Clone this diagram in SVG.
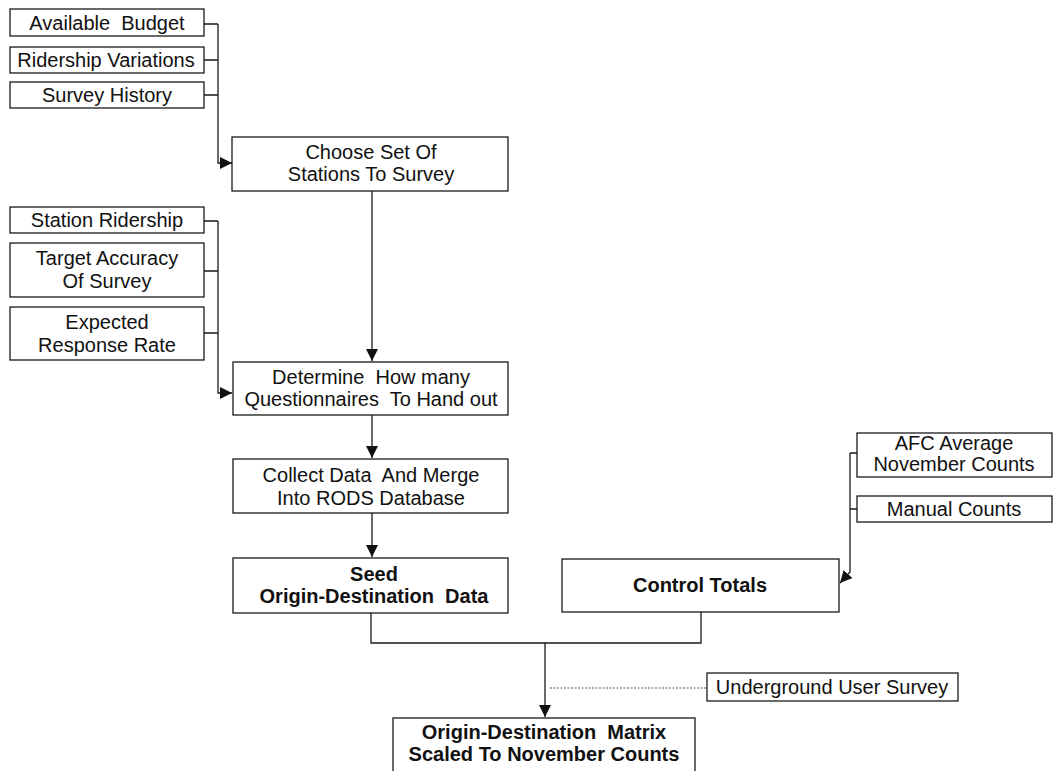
<svg xmlns="http://www.w3.org/2000/svg" width="1054" height="771" viewBox="0 0 1054 771">
  <style>
    .box { fill: #fff; stroke: #1a1a1a; stroke-width: 1.3; }
    .t { font-family: "Liberation Sans", Arial, sans-serif; font-size: 20px; fill: #111; text-anchor: middle; white-space: pre; }
    .b { font-weight: bold; }
    .ln { fill: none; stroke: #1a1a1a; stroke-width: 1.3; }
    .dot { fill: none; stroke: #555; stroke-width: 1; stroke-dasharray: 2 1.5; }
  </style>
  <defs>
    <marker id="arr" viewBox="0 0 10 10" refX="10" refY="5" markerWidth="12" markerHeight="12" markerUnits="userSpaceOnUse" orient="auto">
      <path d="M0,0 L10,5 L0,10 Z" fill="#111"/>
    </marker>
  </defs>
  <rect width="1054" height="771" fill="#fff"/>

  <!-- connectors -->
  <g id="connectors">
    <!-- inputs to station selection -->
    <path class="ln" d="M204,24 H218 M204,60 H218 M204,95 H218"/>
    <path class="ln" d="M218,24 V163 H232" marker-end="url(#arr)"/>
    <!-- station selection to sample size -->
    <path class="ln" d="M372,191 V361" marker-end="url(#arr)"/>
    <!-- inputs to sample size -->
    <path class="ln" d="M204,221 H218 M204,271 H218 M204,333 H218"/>
    <path class="ln" d="M218,221 V393 H232" marker-end="url(#arr)"/>
    <!-- sample size to data collection -->
    <path class="ln" d="M372,415 V458" marker-end="url(#arr)"/>
    <!-- data collection to seed -->
    <path class="ln" d="M372,513 V557" marker-end="url(#arr)"/>
    <!-- counts to control totals -->
    <path class="ln" d="M857,453 H850 M857,509 H850"/>
    <path class="ln" d="M850,453 V572 L840,583" marker-end="url(#arr)"/>
    <!-- seed + control totals merge -->
    <path class="ln" d="M371,613 V643 H701 V612"/>
    <path class="ln" d="M545,643 V717" marker-end="url(#arr)"/>
    <!-- user survey input -->
    <path class="dot" d="M550,688 H707"/>
  </g>

  <g id="available-budget">
    <rect class="box" x="10" y="9" width="194" height="27"/>
    <text class="t" x="107" y="30">Available  Budget</text>
  </g>
  <g id="ridership-variations">
    <rect class="box" x="10" y="47" width="194" height="26"/>
    <text class="t" x="106" y="67">Ridership Variations</text>
  </g>
  <g id="survey-history">
    <rect class="box" x="10" y="82" width="194" height="26"/>
    <text class="t" x="107" y="102">Survey History</text>
  </g>

  <g id="choose-stations">
    <rect class="box" x="232" y="137" width="276" height="54"/>
    <text class="t" x="371" y="159">Choose Set Of</text>
    <text class="t" x="371" y="181">Stations To Survey</text>
  </g>

  <g id="station-ridership">
    <rect class="box" x="10" y="207" width="194" height="26"/>
    <text class="t" x="107" y="227">Station Ridership</text>
  </g>
  <g id="target-accuracy">
    <rect class="box" x="10" y="243" width="194" height="54"/>
    <text class="t" x="107" y="265">Target Accuracy</text>
    <text class="t" x="107" y="288">Of Survey</text>
  </g>
  <g id="response-rate">
    <rect class="box" x="10" y="307" width="194" height="53"/>
    <text class="t" x="107" y="329">Expected</text>
    <text class="t" x="107" y="352">Response Rate</text>
  </g>

  <g id="determine-questionnaires">
    <rect class="box" x="233" y="362" width="275" height="53"/>
    <text class="t" x="371" y="384">Determine  How many</text>
    <text class="t" x="371" y="406">Questionnaires  To Hand out</text>
  </g>

  <g id="collect-data">
    <rect class="box" x="233" y="459" width="275" height="54"/>
    <text class="t" x="371" y="482">Collect Data  And Merge</text>
    <text class="t" x="371" y="505">Into RODS Database</text>
  </g>

  <g id="seed-od">
    <rect class="box" x="233" y="558" width="275" height="55"/>
    <text class="t b" x="374" y="581">Seed</text>
    <text class="t b" x="374" y="603">Origin-Destination  Data</text>
  </g>

  <g id="afc-counts">
    <rect class="box" x="857" y="433" width="195" height="44"/>
    <text class="t" x="954" y="450">AFC Average</text>
    <text class="t" x="954" y="471">November Counts</text>
  </g>
  <g id="manual-counts">
    <rect class="box" x="857" y="496" width="195" height="26"/>
    <text class="t" x="954" y="516">Manual Counts</text>
  </g>

  <g id="control-totals">
    <rect class="box" x="562" y="559" width="277" height="53"/>
    <text class="t b" x="700" y="592">Control Totals</text>
  </g>

  <g id="user-survey">
    <rect class="box" x="707" y="673" width="251" height="28"/>
    <text class="t" x="832" y="694">Underground User Survey</text>
  </g>

  <g id="od-matrix">
    <rect class="box" x="393" y="718" width="302" height="70"/>
    <text class="t b" x="544" y="739">Origin-Destination  Matrix</text>
    <text class="t b" x="544" y="761">Scaled To November Counts</text>
  </g>
</svg>
